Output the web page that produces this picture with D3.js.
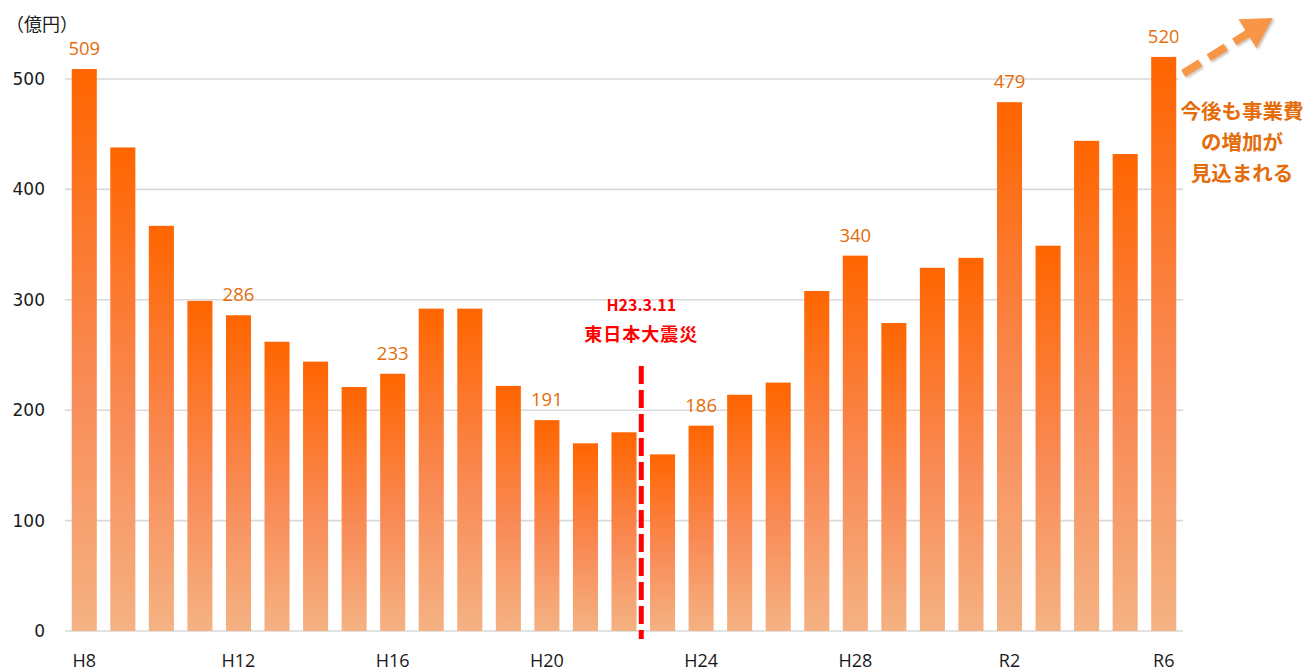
<!DOCTYPE html>
<html>
<head>
<meta charset="utf-8">
<script src="https://cdn.jsdelivr.net/npm/d3@7"></script>
<style>
body{margin:0;background:#fff;}
#canvas{width:1308px;height:670px;}
</style>
</head>
<body>
<div id="canvas" class="canvas"></div>
<script>
// data
var years = ['H8','H9','H10','H11','H12','H13','H14','H15','H16','H17','H18','H19','H20','H21','H22',
    'H23','H24','H25','H26','H27','H28','H29','H30','R1','R2','R3','R4','R5','R6'];
var values = [509,438,367,299,286,262,244,221,233,292,292,222,191,170,180,
    160,186,214,225,308,340,279,329,338,479,349,444,432,520];
var tickYears = ['H8','H12','H16','H20','H24','H28','R2','R6'];
var labeledYears = ['H8','H12','H16','H20','H24','H28','R2','R6'];
var yTicks = [0,100,200,300,400,500];
var quakeAfter = 'H22';   // dashed line sits between H22 and H23
var quakeLines = ['H23.3.11','東日本大震災'];
var noteLines = ['今後も事業費','の増加が','見込まれる'];

var W = 1308, H = 670;
var m = {t:79,r:125,b:39,l:65};
var w = W - m.l - m.r,
    h = H - m.t - m.b;

var svg = d3.select('.canvas')
    .append('svg')
    .attr('width',W)
    .attr('height',H);

var defs = svg.append('defs');
var grad = defs.append('linearGradient')
    .attr('id','barGrad')
    .attr('x1',0).attr('y1',0).attr('x2',0).attr('y2',1);
grad.append('stop').attr('offset','0%').attr('stop-color','#ff6500');
grad.append('stop').attr('offset','55%').attr('stop-color','#f98a55');
grad.append('stop').attr('offset','100%').attr('stop-color','#f5b283');

var shadow = defs.append('filter').attr('id','shadow')
    .attr('x','-20%').attr('y','-20%').attr('width','140%').attr('height','140%');
shadow.append('feDropShadow').attr('dx',1.5).attr('dy',1.5).attr('stdDeviation',1.2)
    .attr('flood-color','#000').attr('flood-opacity',0.25);

var plot = svg.append('g')
    .attr('transform','translate(' + m.l + ',' + m.t + ')');

//Scale
var scaleX = d3.scaleBand()
    .domain(years)
    .range([0,w])
    .paddingInner(0.35)
    .paddingOuter(0.175);
var scaleY = d3.scaleLinear()
    .domain([0,500])
    .range([h,0]);

//Gridlines
plot.selectAll('.grid')
    .data(yTicks)
    .enter()
    .append('line')
    .attr('class','grid')
    .attr('x1',0).attr('x2',w)
    .attr('y1',function(d){return scaleY(d)})
    .attr('y2',function(d){return scaleY(d)})
    .style('stroke','#d9d9d9')
    .style('stroke-width','1.6px');

//Axis Y labels
var axisY = d3.axisLeft()
    .scale(scaleY)
    .tickValues(yTicks)
    .tickSize(0)
    .tickPadding(20);
var gy = plot.append('g').attr('class','axis axis-y').call(axisY);
gy.select('.domain').remove();
gy.selectAll('text')
    .style('font-family','"DejaVu Sans", sans-serif')
    .style('font-size','17px')
    .style('fill','#1a1a1a');

//Axis X labels
var axisX = d3.axisBottom()
    .scale(scaleX)
    .tickValues(tickYears)
    .tickSize(0)
    .tickPadding(23);
var gx = plot.append('g').attr('class','axis axis-x')
    .attr('transform','translate(0,'+h+')')
    .call(axisX);
gx.select('.domain').remove();
gx.selectAll('text')
    .style('font-family','"Open Sans", sans-serif')
    .style('font-size','18px')
    .style('fill','#1a1a1a');

//Bars
plot.selectAll('.bar')
    .data(values)
    .enter()
    .append('rect')
    .attr('class','bar')
    .attr('x',function(d,i){return scaleX(years[i])})
    .attr('width',scaleX.bandwidth())
    .attr('y',function(d){return scaleY(d)})
    .attr('height',function(d){return h - scaleY(d)})
    .style('fill','url(#barGrad)');

//Value labels
plot.selectAll('.val')
    .data(values.filter(function(d,i){return labeledYears.indexOf(years[i]) >= 0}))
    .enter()
    .append('text')
    .attr('class','val')
    .attr('x',function(d){return scaleX(years[values.indexOf(d)]) + scaleX.bandwidth()/2})
    .attr('y',function(d){return scaleY(d) - 14})
    .attr('text-anchor','middle')
    .style('font-family','"Open Sans", sans-serif')
    .style('font-size','18.5px')
    .style('fill','#e46c0a')
    .text(function(d){return d});

//Earthquake marker
var qi = years.indexOf(quakeAfter);
var qx = (scaleX(years[qi]) + scaleX.bandwidth() + scaleX(years[qi+1])) / 2 - 2;
plot.append('line')
    .attr('x1',qx).attr('x2',qx)
    .attr('y1',scaleY(240)).attr('y2',h + 8)
    .style('stroke','#ff0000')
    .style('stroke-width','5px')
    .style('stroke-dasharray','18,6');
plot.append('text')
    .attr('x',qx).attr('y',scaleY(290))
    .attr('text-anchor','middle')
    .style('font-family','"Noto Sans CJK JP", sans-serif')
    .style('font-weight','bold')
    .style('font-size','16px')
    .style('fill','#ff0000')
    .text(quakeLines[0]);
plot.append('text')
    .attr('x',qx).attr('y',scaleY(263))
    .attr('text-anchor','middle')
    .style('font-family','"Noto Sans CJK JP", sans-serif')
    .style('font-weight','bold')
    .style('font-size','18px')
    .style('letter-spacing','1px')
    .style('fill','#ff0000')
    .text(quakeLines[1]);

//Unit label
svg.append('text')
    .attr('x',6).attr('y',31)
    .style('font-family','"Noto Sans CJK JP", sans-serif')
    .style('font-size','18px')
    .style('fill','#1a1a1a')
    .text('（億円）');

//Note box (white box sits partly over the last value label)
var last = values.length - 1;
var nx = scaleX(years[last]) + scaleX.bandwidth();
svg.append('rect')
    .attr('x',m.l + nx + 2).attr('y',28)
    .attr('width',W - (m.l + nx + 2)).attr('height',60)
    .style('fill','#fff').style('opacity',0.7);

//Arrow
var arrow = svg.append('g').attr('filter','url(#shadow)');
var ax0 = m.l + nx + 7, ay0 = m.t + scaleY(505);
var ax1 = 1273, ay1 = 18;
var ang = Math.atan2(ay1 - ay0, ax1 - ax0);
var headLen = 30, headW = 17;
var bx = ax1 - headLen*Math.cos(ang), by = ay1 - headLen*Math.sin(ang);
arrow.append('line')
    .attr('x1',ax0).attr('y1',ay0)
    .attr('x2',bx + 2*Math.cos(ang)).attr('y2',by + 2*Math.sin(ang))
    .style('stroke','#f79646')
    .style('stroke-width','8px')
    .style('stroke-dasharray','20,10');
arrow.append('path')
    .attr('d','M' + ax1 + ',' + ay1 +
        'L' + (bx + headW*Math.sin(ang)) + ',' + (by - headW*Math.cos(ang)) +
        'L' + (bx - headW*Math.sin(ang)) + ',' + (by + headW*Math.cos(ang)) + 'Z')
    .style('fill','#f79646');

//Note text
svg.selectAll('.note')
    .data(noteLines)
    .enter()
    .append('text')
    .attr('class','note')
    .attr('x',1242)
    .attr('y',function(d,i){return 119 + i*31})
    .attr('text-anchor','middle')
    .style('font-family','"Noto Sans CJK JP", sans-serif')
    .style('font-weight','bold')
    .style('font-size','20.5px')
    .style('fill','#e46c0a')
    .text(function(d){return d});
</script>
</body>
</html>
